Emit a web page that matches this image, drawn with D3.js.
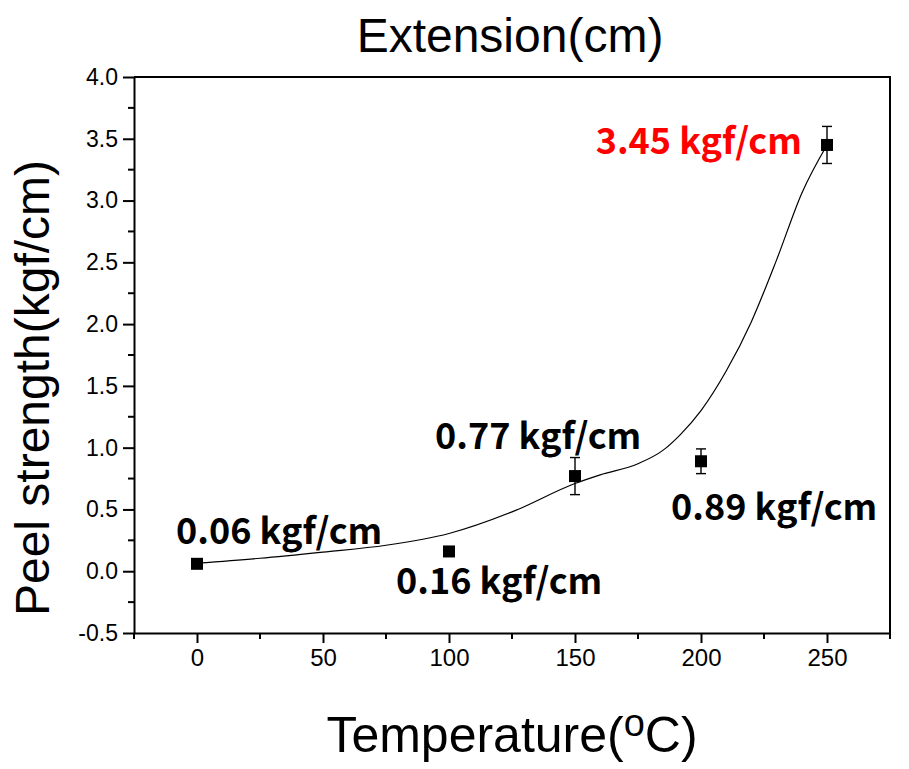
<!DOCTYPE html>
<html>
<head>
<meta charset="utf-8">
<script src="https://cdn.jsdelivr.net/npm/d3@7"></script>
<style>
  html, body { margin: 0; padding: 0; background: #fff; }
  svg { display: block; }
</style>
</head>
<body>
<svg id="chart" width="909" height="769"></svg>
<script>
// ---- data ----
const temps = [0, 100, 150, 200, 250];
const peel = [0.06, 0.16, 0.77, 0.89, 3.45];
const peelErr = [0.02, 0.02, 0.15, 0.10, 0.15];
const labels = ["0.06 kgf/cm", "0.16 kgf/cm", "0.77 kgf/cm", "0.89 kgf/cm", "3.45 kgf/cm"];
const labelColors = ["#000", "#000", "#000", "#000", "#ff0000"];
// fitted curve
const fitT = [0, 25, 50, 75, 100, 125, 150, 160, 175, 185, 192, 200, 210, 220, 230, 240, 250];
const fitV = [0.065, 0.105, 0.155, 0.21, 0.305, 0.48, 0.71, 0.78, 0.87, 0.98, 1.11, 1.30, 1.62, 2.02, 2.52, 3.06, 3.45];
const xTicks = [0, 50, 100, 150, 200, 250];
const yTicks = [-0.5, 0.0, 0.5, 1.0, 1.5, 2.0, 2.5, 3.0, 3.5, 4.0];

// ---- layout ----
const L = 134, R = 890, T = 77, B = 633;
const svg = d3.select("#chart");
const x = d3.scaleLinear().domain([-25, 275]).range([L, R]);
const y = d3.scaleLinear().domain([-0.5, 4.0]).range([B, T]);

// label offsets (px) relative to each point
const labelLayout = [
  {dx: -21, dy: -20, anchor: "start"},
  {dx: -53, dy: 43, anchor: "start"},
  {dx: -140, dy: -27, anchor: "start"},
  {dx: -30, dy: 59, anchor: "start"},
  {dx: -25, dy: 9, anchor: "end"}
];

// frame (top & right)
svg.append("path")
  .attr("d", `M${L},${T}H${R}V${B}`)
  .attr("fill", "none").attr("stroke", "#000").attr("stroke-width", 2);

// minor ticks
const xMinor = d3.range(-25, 276, 50);
const yMinor = d3.range(-0.25, 4.0, 0.5);

// x axis
const xAxis = svg.append("g").attr("transform", `translate(0,${B})`)
  .call(d3.axisBottom(x).tickValues(xTicks).tickSize(10).tickSizeOuter(0).tickPadding(6).tickFormat(d3.format("d")));
xAxis.select(".domain").attr("stroke-width", 2);
xAxis.selectAll(".tick line").attr("stroke-width", 2);
xAxis.selectAll(".tick text")
  .style("font-family", "'Liberation Sans', Arial, sans-serif").style("font-size", "24px").attr("fill", "#000");
svg.append("g").attr("transform", `translate(0,${B})`)
  .selectAll("line").data(xMinor).join("line")
  .attr("x1", d => x(d)).attr("x2", d => x(d)).attr("y1", 0).attr("y2", 6)
  .attr("stroke", "#000").attr("stroke-width", 2);

// y axis
const yFmt = d => d3.format(".1f")(d).replace("\u2212", "-");
const yAxis = svg.append("g").attr("transform", `translate(${L},0)`)
  .call(d3.axisLeft(y).tickValues(yTicks).tickSize(11).tickSizeOuter(0).tickPadding(5).tickFormat(yFmt));
yAxis.select(".domain").attr("stroke-width", 2);
yAxis.selectAll(".tick line").attr("stroke-width", 2);
yAxis.selectAll(".tick text")
  .style("font-family", "'Liberation Sans', Arial, sans-serif").style("font-size", "23px").attr("fill", "#000");
svg.append("g").attr("transform", `translate(${L},0)`)
  .selectAll("line").data(yMinor).join("line")
  .attr("x1", -6).attr("x2", 0).attr("y1", d => y(d)).attr("y2", d => y(d))
  .attr("stroke", "#000").attr("stroke-width", 2);

// fitted curve
const fit = fitT.map((t, i) => [t, fitV[i]]);
svg.append("path")
  .datum(fit)
  .attr("d", d3.line().x(d => x(d[0])).y(d => y(d[1])).curve(d3.curveMonotoneX))
  .attr("fill", "none").attr("stroke", "#000").attr("stroke-width", 1.2);

// error bars
const pts = temps.map((t, i) => ({t, v: peel[i], e: peelErr[i], label: labels[i], color: labelColors[i], lay: labelLayout[i]}));
const eb = svg.append("g").attr("stroke", "#000").attr("stroke-width", 1.4);
pts.forEach(p => {
  const cx = x(p.t), y1 = y(p.v + p.e), y2 = y(p.v - p.e);
  eb.append("line").attr("x1", cx).attr("x2", cx).attr("y1", y1).attr("y2", y2);
  eb.append("line").attr("x1", cx - 5).attr("x2", cx + 5).attr("y1", y1).attr("y2", y1);
  eb.append("line").attr("x1", cx - 5).attr("x2", cx + 5).attr("y1", y2).attr("y2", y2);
});

// markers
svg.append("g").selectAll("rect").data(pts).join("rect")
  .attr("x", d => x(d.t) - 6).attr("y", d => y(d.v) - 6)
  .attr("width", 12).attr("height", 12).attr("fill", "#000");

// value labels
svg.append("g").selectAll("text").data(pts).join("text")
  .attr("x", d => x(d.t) + d.lay.dx)
  .attr("y", d => y(d.v) + d.lay.dy)
  .attr("text-anchor", d => d.lay.anchor)
  .attr("font-family", "'Noto Sans CJK KR', 'Noto Sans', sans-serif")
  .attr("font-weight", "bold")
  .attr("font-size", 36)
  .attr("fill", d => d.color)
  .text(d => d.label);

// title
svg.append("text").attr("x", 510).attr("y", 52).attr("text-anchor", "middle")
  .attr("font-family", "Liberation Sans, Arial, sans-serif").attr("font-size", 48)
  .text("Extension(cm)");

// y label
svg.append("text").attr("transform", "translate(49,388) rotate(-90)").attr("text-anchor", "middle")
  .attr("font-family", "Liberation Sans, Arial, sans-serif").attr("font-size", 48)
  .text("Peel strength(kgf/cm)");

// x label
const xl = svg.append("text").attr("x", 512).attr("y", 752).attr("text-anchor", "middle")
  .attr("font-family", "Liberation Sans, Arial, sans-serif").attr("font-size", 50);
xl.append("tspan").text("Temperature(");
xl.append("tspan").attr("font-size", 38).attr("dy", -16).text("o");
xl.append("tspan").attr("dy", 16).text("C)");
</script>
</body>
</html>
